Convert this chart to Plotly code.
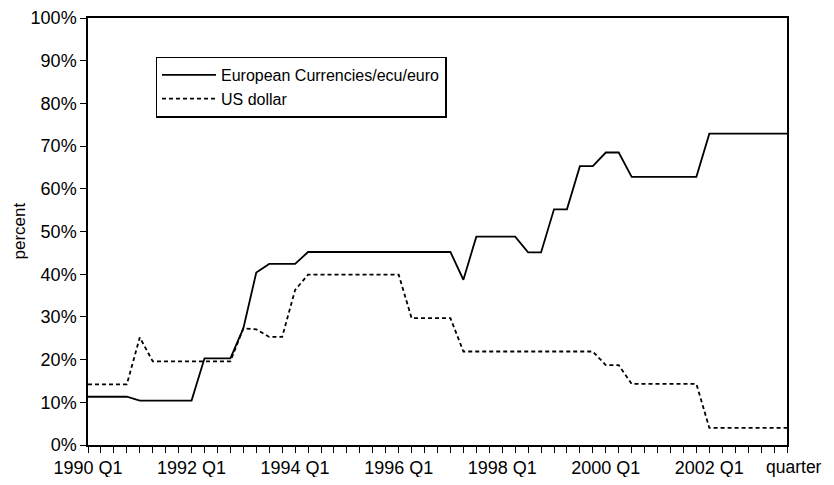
import plotly.graph_objects as go

# Quarter index 0 = 1990 Q1 ... 54 = 2003 Q3
quarters = [f"{1990 + i // 4} Q{i % 4 + 1}" for i in range(55)]
label_quarters = ["1990 Q1", "1992 Q1", "1994 Q1", "1996 Q1", "1998 Q1", "2000 Q1", "2002 Q1"]

european = [11.3, 11.3, 11.3, 11.3,
            10.4, 10.4, 10.4, 10.4, 10.4,
            20.3, 20.3, 20.3,
            27.3, 40.4,
            42.4, 42.4, 42.4,
            45.2, 45.2, 45.2, 45.2, 45.2, 45.2, 45.2, 45.2, 45.2, 45.2, 45.2, 45.2,
            38.7,
            48.8, 48.8, 48.8, 48.8,
            45.1, 45.1,
            55.2, 55.2,
            65.3, 65.3,
            68.5, 68.5,
            62.8, 62.8, 62.8, 62.8, 62.8, 62.8,
            72.9, 72.9, 72.9, 72.9, 72.9, 72.9, 72.9]

us_dollar = [14.2, 14.2, 14.2, 14.2,
             25.2,
             19.6, 19.6, 19.6, 19.6, 19.6, 19.6, 19.6,
             27.3, 27.1,
             25.3, 25.3,
             36.3,
             39.9, 39.9, 39.9, 39.9, 39.9, 39.9, 39.9, 39.9,
             29.7, 29.7, 29.7, 29.7,
             21.9, 21.9, 21.9, 21.9, 21.9, 21.9, 21.9, 21.9, 21.9, 21.9, 21.9,
             18.7, 18.7,
             14.3, 14.3, 14.3, 14.3, 14.3, 14.3,
             4.0, 4.0, 4.0, 4.0, 4.0, 4.0, 4.0]

y_ticks = list(range(0, 101, 10))
y_ticktext = [f"{v}%" for v in y_ticks]

x = list(range(len(quarters)))
ticktext = [q if q in label_quarters else "" for q in quarters]

FONT = "Liberation Sans, Arial, sans-serif"

# the page body adds an ~8px offset on every side; the figure is sized to fit inside the window
OFF = 8
W, H = 834 - OFF, 485 - 2 * OFF
L, R, T, B = 80, 47, 10, 32
PW = W - L - R
PH = H - T - B

def px_x(sx):
    return (sx - OFF - L) / PW

def px_y(sy):
    return (H - B - (sy - OFF)) / PH

fig = go.Figure()
fig.add_trace(go.Scatter(x=x, y=european, mode="lines", name="European Currencies/ecu/euro",
                         line=dict(color="black", width=1.8)))
fig.add_trace(go.Scatter(x=x, y=us_dollar, mode="lines", name="US dollar",
                         line=dict(color="black", width=1.8, dash="4px,3px")))

fig.update_layout(
    width=W, height=H,
    margin=dict(l=L, r=R, t=T, b=B, autoexpand=False),
    paper_bgcolor="white", plot_bgcolor="white",
    font=dict(family=FONT, size=18, color="black"),
    showlegend=True,
    legend=dict(x=px_x(155.5), y=px_y(56.5), xanchor="left", yanchor="top",
                bordercolor="black", borderwidth=1.5, bgcolor="white",
                font=dict(size=16), itemwidth=54, tracegroupgap=0),
    xaxis=dict(range=[0, len(quarters) - 1], tickmode="array", tickvals=x, ticktext=ticktext,
               ticks="outside", ticklen=6, tickwidth=1, tickcolor="black",
               showline=True, linecolor="black", linewidth=1.5, mirror=True,
               showgrid=False, zeroline=False, tickangle=0, automargin=False,
               ticklabeloverflow="allow"),
    yaxis=dict(range=[0, 100], tickmode="array", tickvals=y_ticks, ticktext=y_ticktext,
               ticks="outside", ticklen=6, tickwidth=1, tickcolor="black",
               showline=True, linecolor="black", linewidth=1.5, mirror=True,
               showgrid=False, zeroline=False, automargin=False,
               ticklabeloverflow="allow"),
)

fig.add_annotation(text="percent", xref="paper", yref="paper",
                   x=px_x(19), y=0.5, xanchor="center", yanchor="middle",
                   textangle=-90, showarrow=False, font=dict(size=17))
fig.add_annotation(text="quarter", xref="paper", yref="paper",
                   x=px_x(824), y=px_y(466.5), xanchor="right", yanchor="middle",
                   showarrow=False, font=dict(size=17.5))

fig.write_html("out.html")
